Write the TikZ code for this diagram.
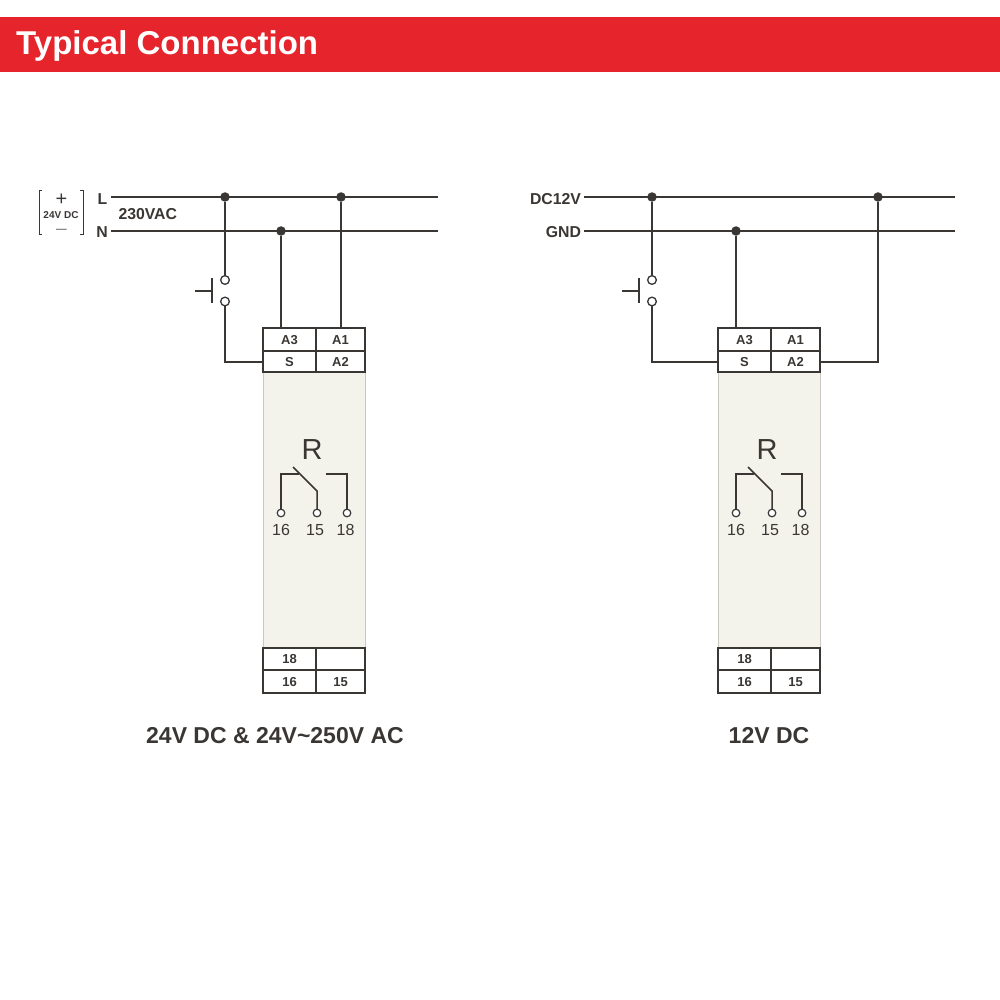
\documentclass[tikz,border=0pt]{standalone}
\usepackage{fontspec}
\setmainfont{Liberation Sans}
\definecolor{hdr}{HTML}{E6242B}
\definecolor{ink}{HTML}{3A3634}
\definecolor{body}{HTML}{F3F3EC}
\definecolor{edge}{HTML}{C9C9C2}
\newcommand{\fsz}[1]{\fontsize{#1}{#1}\selectfont}
\tikzset{
  wire/.style={draw=ink,line width=1.7pt},
  dotnode/.style={circle,fill=ink,draw=none,minimum size=9.5pt,inner sep=0pt,outer sep=0pt},
  ring/.style={circle,draw=ink,fill=white,line width=1.3pt,minimum size=8.7pt,inner sep=0pt,outer sep=0pt},
  smallring/.style={circle,draw=ink,fill=white,line width=1.2pt,minimum size=7.6pt,inner sep=0pt,outer sep=0pt},
  cell/.style={rectangle,draw=ink,fill=white,line width=1.7pt,inner sep=0pt,outer sep=0pt,text=ink,font=\bfseries\fsz{13},text height=9.3pt,text depth=0pt},
  lbl/.style={inner sep=0pt,outer sep=0pt,text=ink,font=\bfseries\fsz{15.8}},
  captext/.style={inner sep=0pt,outer sep=0pt,text=ink,font=\bfseries\fsz{23}},
  num/.style={inner sep=0pt,outer sep=0pt,text=ink,font=\fsz{16}},
}
\begin{document}
\begin{tikzpicture}[x=1pt,y=-1pt]
\useasboundingbox (0,0) rectangle (1000,1000);
\fill[white] (0,0) rectangle (1000,1000);
% header
\node[rectangle,fill=hdr,minimum width=1000pt,minimum height=55.5pt,inner sep=0pt,outer sep=0pt] (header) at (500,44.5) {};
\node[anchor=west,inner sep=0pt,text=white,font=\bfseries\fsz{33}] (title) at (16,46) {Typical Connection};

% relay modules
\foreach \p/\ox in {a/0,b/455}{
\begin{scope}[shift={(\ox,0)}]
  \node[rectangle,fill=body,draw=edge,line width=0.8pt,minimum width=102pt,minimum height=276pt,inner sep=0pt,outer sep=0pt] (\p body) at (314,510) {};
  \node[cell,minimum width=53pt,minimum height=23pt] (\p A3) at (289.5,339.5) {A3};
  \node[cell,minimum width=49pt,minimum height=23pt] (\p A1) at (340.5,339.5) {A1};
  \node[cell,minimum width=53pt,minimum height=21pt] (\p S) at (289.5,361.5) {S};
  \node[cell,minimum width=49pt,minimum height=21pt] (\p A2) at (340.5,361.5) {A2};
  \node[cell,minimum width=53pt,minimum height=22pt] (\p T18) at (289.5,659) {18};
  \node[cell,minimum width=49pt,minimum height=22pt] (\p Tx) at (340.5,659) {};
  \node[cell,minimum width=53pt,minimum height=23pt] (\p T16) at (289.5,681.5) {16};
  \node[cell,minimum width=49pt,minimum height=23pt] (\p T15) at (340.5,681.5) {15};
  \node[inner sep=0pt,text=ink,font=\fsz{29}] (\p R) at (312,450) {R};
  \node[smallring] (\p c16) at (281,513) {};
  \node[smallring] (\p c15) at (317,513) {};
  \node[smallring] (\p c18) at (347,513) {};
  \node[num] (\p n16) at (281,530) {16};
  \node[num] (\p n15) at (315,530) {15};
  \node[num] (\p n18) at (345.5,530) {18};
  \coordinate (\p k1) at (281,474);
  \coordinate (\p k2) at (299,474);
  \coordinate (\p s1) at (293,467);
  \coordinate (\p s2) at (317,491);
  \coordinate (\p m1) at (326,474);
  \coordinate (\p m2) at (347,474);
  \draw[wire,line width=1.5pt] (\p c16) -- (\p k1) -- (\p k2);
  \draw[wire,line width=1.5pt] (\p s1) -- (\p s2) -- (\p c15);
  \draw[wire,line width=1.5pt] (\p m1) -- (\p m2) -- (\p c18);
\end{scope}
}

% left circuit
\coordinate (lLs) at (111,197);
\coordinate (lLe) at (438,197);
\coordinate (lNs) at (111,231);
\coordinate (lNe) at (438,231);
\draw[wire] (lLs) -- (lLe);
\draw[wire] (lNs) -- (lNe);
\node[dotnode] (ld1) at (225,197) {};
\node[dotnode] (ld2) at (281,231) {};
\node[dotnode] (ld3) at (341,197) {};
\node[ring] (lr1) at (225,280) {};
\node[ring] (lr2) at (225,301.5) {};
\draw[wire] (ld1) -- (lr1);
\draw[wire] (lr2) |- ([yshift=-0.5pt]aS.west);
\draw[wire] (ld2) -- (ld2 |- aA3.north);
\draw[wire] (ld3) -- (ld3 |- aA1.north);
\coordinate (lb1) at (212,278);
\coordinate (lb2) at (212,303);
\coordinate (lb3) at (195,291);
\coordinate (lb4) at (212,291);
\draw[wire,line width=2.4pt] (lb1) -- (lb2);
\draw[wire,line width=2.4pt] (lb3) -- (lb4);
\node[lbl] (L) at (102.5,199) {L};
\node[lbl] (N) at (102,232.5) {N};
\node[lbl,anchor=west] (v230) at (118.5,214.5) {230VAC};
% bracket
\coordinate (bl1) at (42,191);
\coordinate (bl2) at (39,191);
\coordinate (bl3) at (39,235);
\coordinate (bl4) at (42,235);
\coordinate (br1) at (80,191);
\coordinate (br2) at (83,191);
\coordinate (br3) at (83,235);
\coordinate (br4) at (80,235);
\draw[draw=ink,line width=1pt] (bl1) -- (bl2) -- (bl3) -- (bl4);
\draw[draw=ink,line width=1pt] (br1) -- (br2) -- (br3) -- (br4);
\node[inner sep=0pt,text=ink,font=\fsz{20}] (plus) at (61.5,200) {+};
\node[inner sep=0pt,text=ink,font=\bfseries\fsz{10}] (dc24) at (61,215.5) {24V DC};
\node[inner sep=0pt,text=ink,font=\fsz{11},xscale=1.75] (minus) at (61.5,231) {–};

% right circuit
\node[lbl,anchor=east] (dc12) at (581,199) {DC12V};
\node[lbl,anchor=east] (gnd) at (581,232.5) {GND};
\coordinate (rLs) at (584,197);
\coordinate (rLe) at (955,197);
\coordinate (rNs) at (584,231);
\coordinate (rNe) at (955,231);
\draw[wire] (rLs) -- (rLe);
\draw[wire] (rNs) -- (rNe);
\node[dotnode] (rd1) at (652,197) {};
\node[dotnode] (rd2) at (736,231) {};
\node[dotnode] (rd3) at (878,197) {};
\node[ring] (rr1) at (652,280) {};
\node[ring] (rr2) at (652,301.5) {};
\draw[wire] (rd1) -- (rr1);
\draw[wire] (rr2) |- ([yshift=-0.5pt]bS.west);
\draw[wire] (rd2) -- (rd2 |- bA3.north);
\draw[wire] (rd3) |- ([yshift=-0.5pt]bA2.east);
\coordinate (rb1) at (639,278);
\coordinate (rb2) at (639,303);
\coordinate (rb3) at (622,291);
\coordinate (rb4) at (639,291);
\draw[wire,line width=2.4pt] (rb1) -- (rb2);
\draw[wire,line width=2.4pt] (rb3) -- (rb4);

% captions
\node[captext] (capa) at (275,736) {24V DC \& 24V\char`\~250V AC};
\node[captext] (capb) at (769,736) {12V DC};
\end{tikzpicture}
\end{document}
